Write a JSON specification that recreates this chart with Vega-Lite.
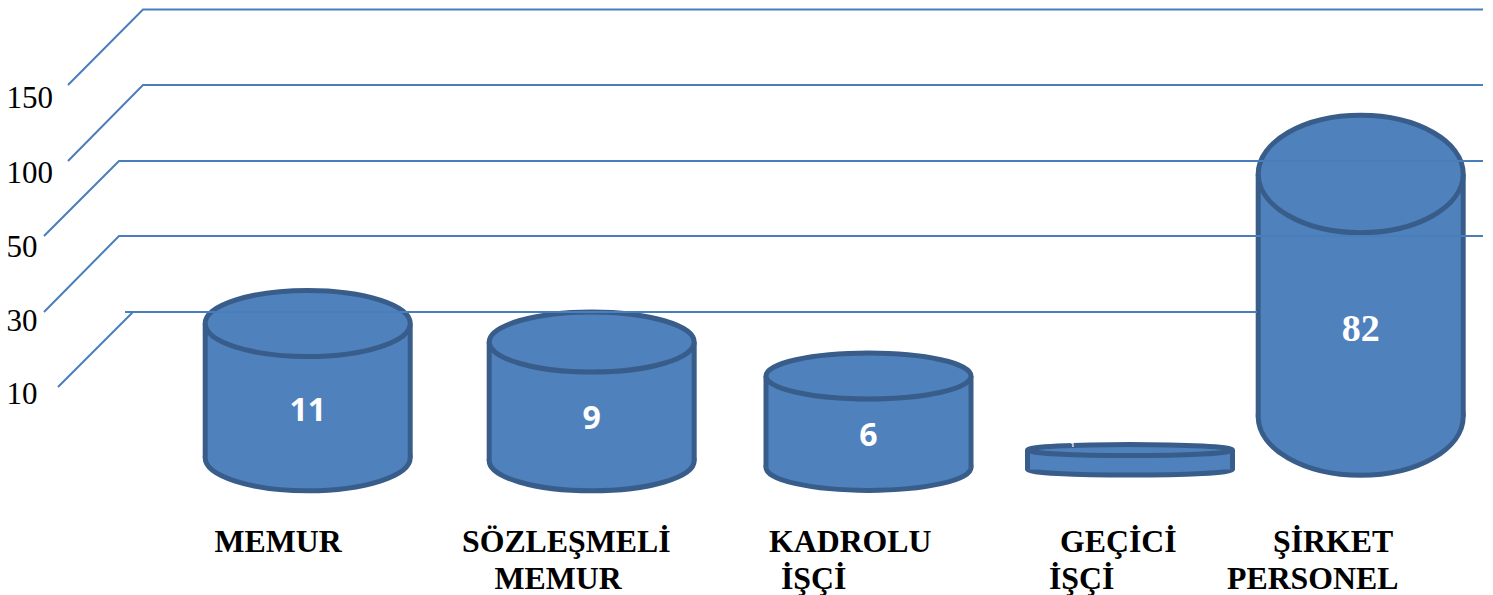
{"$schema":"https://vega.github.io/schema/vega-lite/v6.json","width":1493,"height":595,"autosize":"none","padding":0,"background":"white","view":{"stroke":null},
"datasets":{
"cyl":[{"cat":"MEMUR","slot":1,"value":11,"floor":0.473},{"cat":"SÖZLEŞMELİ MEMUR","slot":2,"value":9,"floor":0.27},{"cat":"KADROLU İŞÇİ","slot":3,"value":6,"floor":-0.18},{"cat":"GEÇİCİ İŞÇİ","slot":4,"value":1,"floor":-0.32},{"cat":"ŞİRKET PERSONEL","slot":5,"value":82,"floor":3.25}],
"ticks":[{"tick":10},{"tick":30},{"tick":50},{"tick":100},{"tick":150}],
"grid":[{"tick":10,"seq":1,"xs":2,"ys":1},{"tick":10,"seq":2,"xs":6,"ys":2},{"tick":10,"seq":3,"xs":5,"ys":2},{"tick":10,"seq":4,"xs":8,"ys":2},
{"tick":30,"seq":1,"xs":1,"ys":2},{"tick":30,"seq":2,"xs":4,"ys":3},{"tick":30,"seq":3,"xs":9,"ys":3},
{"tick":50,"seq":1,"xs":1,"ys":3},{"tick":50,"seq":2,"xs":4,"ys":4},{"tick":50,"seq":3,"xs":9,"ys":4},
{"tick":100,"seq":1,"xs":3,"ys":4},{"tick":100,"seq":2,"xs":7,"ys":5},{"tick":100,"seq":3,"xs":9,"ys":5},
{"tick":150,"seq":1,"xs":3,"ys":5},{"tick":150,"seq":2,"xs":7,"ys":6},{"tick":150,"seq":3,"xs":9,"ys":6}],
"labels":[{"text":"MEMUR","line":1,"row":1},{"text":"SÖZLEŞMELİ","line":2,"row":1},{"text":"MEMUR","line":3,"row":2},{"text":"KADROLU","line":4,"row":1},{"text":"İŞÇİ","line":5,"row":2},{"text":"İŞÇİ","line":6,"row":2},{"text":"GEÇİCİ","line":7,"row":1},{"text":"PERSONEL","line":8,"row":2},{"text":"ŞİRKET","line":9,"row":1}]
},
"resolve":{"scale":{"x":"independent","y":"independent"}},
"layer":[
{"data":{"name":"ticks"},"mark":{"type":"point","opacity":0},"encoding":{"y":{"field":"tick","type":"quantitative","scale":{"domain":[10,30,50,100,150],"range":[394,321,247,173,98]},"axis":{"orient":"left","values":[10,30,50,100,150],"format":"d","offset":-6,"domain":false,"ticks":false,"grid":false,"title":null,"labelAlign":"left","labelBaseline":"middle","labelPadding":0,"labelFont":"Liberation Serif","labelFontSize":31,"labelColor":"#000000"}}}},
{"data":{"name":"cyl"},"mark":{"type":"point","filled":true,"fill":"#4F81BD","stroke":"#385D8A","strokeWidth":5,"opacity":1,"size":42025},"encoding":{
"x":{"field":"slot","type":"quantitative","axis":null,"scale":{"domain":[1,2,3,4,5],"range":[307.7,591.7,868.5,1130,1360.7],"padding":0,"nice":false,"zero":false}},
"y":{"field":"floor","type":"quantitative","axis":null,"scale":{"domain":[-0.32,1,6,9,11,82],"range":[469.5,450,376,342,323.5,174],"padding":0,"nice":false,"zero":false}},
"shape":{"field":"cat","type":"nominal","legend":null,"scale":{"domain":["MEMUR","SÖZLEŞMELİ MEMUR","KADROLU İŞÇİ","GEÇİCİ İŞÇİ","ŞİRKET PERSONEL"],"range":["M-1,0A1,0.322 0 1,1 1,0A1,0.322 0 1,1 -1,0Z","M-1,0A1,0.293 0 1,1 1,0A1,0.293 0 1,1 -1,0Z","M-1,0A1,0.224 0 1,1 1,0A1,0.224 0 1,1 -1,0Z","M-1,0A1,0.054 0 1,1 1,0A1,0.054 0 1,1 -1,0Z","M-1,0A1,0.572 0 1,1 1,0A1,0.572 0 1,1 -1,0Z"]}}}},
{"data":{"name":"cyl"},"mark":{"type":"bar","orient":"vertical","size":205,"fill":"#4F81BD"},"encoding":{
"x":{"field":"slot","type":"quantitative","axis":null,"scale":{"domain":[1,2,3,4,5],"range":[307.7,591.7,868.5,1130,1360.7],"padding":0,"nice":false,"zero":false}},
"y":{"field":"value","type":"quantitative","axis":null,"scale":{"domain":[-0.32,1,6,9,11,82],"range":[469.5,450,376,342,323.5,174],"padding":0,"nice":false,"zero":false}},"y2":{"field":"floor"}}},
{"data":{"name":"cyl"},"mark":{"type":"rule","stroke":"#385D8A","strokeWidth":5,"xOffset":-102.5},"encoding":{
"x":{"field":"slot","type":"quantitative","axis":null,"scale":{"domain":[1,2,3,4,5],"range":[307.7,591.7,868.5,1130,1360.7],"padding":0,"nice":false,"zero":false}},
"y":{"field":"value","type":"quantitative","axis":null,"scale":{"domain":[-0.32,1,6,9,11,82],"range":[469.5,450,376,342,323.5,174],"padding":0,"nice":false,"zero":false}},"y2":{"field":"floor"}}},
{"data":{"name":"cyl"},"mark":{"type":"rule","stroke":"#385D8A","strokeWidth":5,"xOffset":102.5},"encoding":{
"x":{"field":"slot","type":"quantitative","axis":null,"scale":{"domain":[1,2,3,4,5],"range":[307.7,591.7,868.5,1130,1360.7],"padding":0,"nice":false,"zero":false}},
"y":{"field":"value","type":"quantitative","axis":null,"scale":{"domain":[-0.32,1,6,9,11,82],"range":[469.5,450,376,342,323.5,174],"padding":0,"nice":false,"zero":false}},"y2":{"field":"floor"}}},
{"data":{"name":"cyl"},"mark":{"type":"point","filled":true,"fill":"#4F81BD","stroke":"#385D8A","strokeWidth":5,"opacity":1,"size":42025},"encoding":{
"x":{"field":"slot","type":"quantitative","axis":null,"scale":{"domain":[1,2,3,4,5],"range":[307.7,591.7,868.5,1130,1360.7],"padding":0,"nice":false,"zero":false}},
"y":{"field":"value","type":"quantitative","axis":null,"scale":{"domain":[-0.32,1,6,9,11,82],"range":[469.5,450,376,342,323.5,174],"padding":0,"nice":false,"zero":false}},
"shape":{"field":"cat","type":"nominal","legend":null,"scale":{"domain":["MEMUR","SÖZLEŞMELİ MEMUR","KADROLU İŞÇİ","GEÇİCİ İŞÇİ","ŞİRKET PERSONEL"],"range":["M-1,0A1,0.322 0 1,1 1,0A1,0.322 0 1,1 -1,0Z","M-1,0A1,0.293 0 1,1 1,0A1,0.293 0 1,1 -1,0Z","M-1,0A1,0.224 0 1,1 1,0A1,0.224 0 1,1 -1,0Z","M-1,0A1,0.054 0 1,1 1,0A1,0.054 0 1,1 -1,0Z","M-1,0A1,0.572 0 1,1 1,0A1,0.572 0 1,1 -1,0Z"]}}}},
{"data":{"name":"grid"},"mark":{"type":"line","stroke":"#4A7EBB","strokeWidth":2,"interpolate":"linear"},"encoding":{
"x":{"field":"xs","type":"quantitative","axis":null,"scale":{"domain":[1,2,3,4,5,6,7,8,9],"range":[44,58,68,119,125,133,143,1257,1483],"padding":0,"nice":false,"zero":false}},
"y":{"field":"ys","type":"quantitative","axis":null,"scale":{"domain":[1,2,3,4,5,6],"range":[387,312,236,161,85,9.5],"padding":0,"nice":false,"zero":false}},
"detail":{"field":"tick"},"order":{"field":"seq"}}},
{"data":{"name":"cyl"},"transform":[{"filter":"datum.value!==82&&datum.value!==1"}],"mark":{"type":"text","font":"Open Sans","fontWeight":"bold","fontSize":32,"fill":"white","align":"center","baseline":"middle"},"encoding":{
"text":{"field":"value","type":"quantitative"},
"x":{"field":"slot","type":"quantitative","axis":null,"scale":{"domain":[1,2,3,4,5],"range":[307.7,591.7,868.5,1072.5,1360.7],"padding":0,"nice":false,"zero":false}},
"y":{"field":"value","type":"quantitative","axis":null,"scale":{"domain":[1,6,9,11,82],"range":[445,436,419,411,330],"padding":0,"nice":false,"zero":false}}}},
{"data":{"name":"cyl"},"transform":[{"filter":"datum.value===1"}],"mark":{"type":"text","font":"Open Sans","fontWeight":"bold","fontSize":7,"fill":"white","align":"center","baseline":"middle"},"encoding":{
"text":{"field":"value","type":"quantitative"},
"x":{"field":"slot","type":"quantitative","axis":null,"scale":{"domain":[1,2,3,4,5],"range":[307.7,591.7,868.5,1072.5,1360.7],"padding":0,"nice":false,"zero":false}},
"y":{"field":"value","type":"quantitative","axis":null,"scale":{"domain":[1,6,9,11,82],"range":[445,436,419,411,330],"padding":0,"nice":false,"zero":false}}}},
{"data":{"name":"cyl"},"transform":[{"filter":"datum.value===82"}],"mark":{"type":"text","font":"Liberation Serif","fontWeight":"bold","fontSize":38,"fill":"white","align":"center","baseline":"middle"},"encoding":{
"text":{"field":"value","type":"quantitative"},
"x":{"field":"slot","type":"quantitative","axis":null,"scale":{"domain":[1,2,3,4,5],"range":[307.7,591.7,868.5,1072.5,1360.7],"padding":0,"nice":false,"zero":false}},
"y":{"field":"value","type":"quantitative","axis":null,"scale":{"domain":[1,6,9,11,82],"range":[445,436,419,411,330],"padding":0,"nice":false,"zero":false}}}},
{"data":{"name":"labels"},"mark":{"type":"text","font":"Liberation Serif","fontWeight":"bold","fontSize":31.8,"fill":"#000000","align":"left","baseline":"alphabetic"},"encoding":{
"text":{"field":"text","type":"nominal"},
"x":{"field":"line","type":"quantitative","axis":null,"scale":{"domain":[1,2,3,4,5,6,7,8,9],"range":[214.5,462,494.5,769,781,1049,1060,1227,1273],"padding":0,"nice":false,"zero":false}},
"y":{"field":"row","type":"quantitative","axis":null,"scale":{"domain":[1,2],"range":[552,589],"padding":0,"nice":false,"zero":false}}}}
]}
